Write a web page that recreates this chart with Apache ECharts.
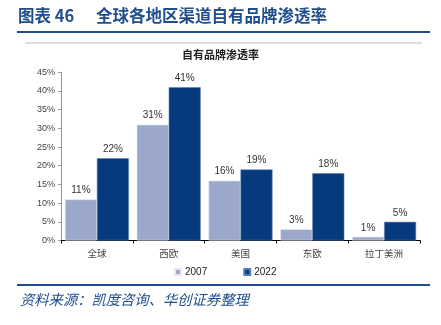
<!DOCTYPE html>
<html>
<head>
<meta charset="utf-8">
<script src="https://cdn.jsdelivr.net/npm/echarts@6/dist/echarts.min.js"></script>
<style>
  html, body { margin: 0; padding: 0; background: #fff; }
  #chart { width: 441px; height: 325px; }
</style>
</head>
<body>
<div id="chart"></div>
<script>
// Private-label penetration by region, 2007 vs 2022 (%)
const regions = ['全球', '西欧', '美国', '东欧', '拉丁美洲'];
const share2007 = [11, 31, 16, 3, 1];
const share2022 = [22, 41, 19, 18, 5];
const yTicks = [0, 5, 10, 15, 20, 25, 30, 35, 40, 45];

const blue = '#1f4e8c';
const chart = echarts.init(document.getElementById('chart'));

chart.setOption({
  animation: false,
  textStyle: { fontFamily: 'Liberation Sans, Arial, sans-serif' },
  graphic: [
    { type: 'text', left: 18, top: 7,
      style: { text: '图表 46', font: 'bold 16.5px "Noto Sans CJK SC"', fill: blue } },
    { type: 'text', left: 96, top: 7,
      style: { text: '全球各地区渠道自有品牌渗透率', font: 'bold 16.5px "Noto Sans CJK SC"', fill: blue } },
    { type: 'rect', shape: { x: 17, y: 31, width: 413, height: 2 }, style: { fill: blue } },
    { type: 'rect', shape: { x: 25, y: 42.5, width: 397, height: 1 }, style: { fill: '#bdbdbd' } },
    { type: 'text', left: 'center', top: 49,
      style: { text: '自有品牌渗透率', font: 'bold 11px "Noto Sans CJK SC"', fill: '#222' } },
    { type: 'rect', shape: { x: 17, y: 284, width: 413, height: 2 }, style: { fill: blue } },
    { type: 'text', left: 20, top: 292,
      style: { text: '资料来源：凯度咨询、华创证券整理', font: 'italic 14.3px "Noto Sans CJK SC"', fill: blue } }
  ],
  legend: {
    data: ['2007', '2022'],
    left: 169, top: 262,
    icon: 'rect', itemWidth: 6, itemHeight: 6, itemGap: 36,
    textStyle: { fontSize: 10, color: '#222', padding: [0, 0, 0, -1] }
  },
  grid: { left: 61, right: 21, top: 72.3, bottom: 84.5 },
  xAxis: {
    type: 'category',
    data: regions,
    axisLine: { lineStyle: { color: '#000', width: 1 } },
    axisTick: { show: true, length: 3, lineStyle: { color: '#000' } },
    axisLabel: { fontSize: 9.5, color: '#444', margin: 8, fontFamily: 'Noto Sans CJK SC' }
  },
  yAxis: {
    type: 'value',
    min: yTicks[0], max: yTicks[yTicks.length - 1], interval: 5,
    splitLine: { show: false },
    axisLine: { show: true, lineStyle: { color: '#999' } },
    axisTick: { show: true, length: 3, lineStyle: { color: '#999' } },
    axisLabel: { fontSize: 9, color: '#444', margin: 6, formatter: v => v + '%' }
  },
  series: [
    {
      name: '2007', type: 'bar', data: share2007,
      barWidth: 32, barGap: '0%',
      itemStyle: { color: '#9ba7cb', borderColor: '#e4e8f2', borderWidth: 0.6 },
      label: { show: true, position: 'top', distance: 4, fontSize: 10, color: '#333', formatter: '{c}%' }
    },
    {
      name: '2022', type: 'bar', data: share2022,
      barWidth: 32, barGap: '0%',
      itemStyle: { color: '#073a7c', borderColor: '#5a7db0', borderWidth: 0.6 },
      label: { show: true, position: 'top', distance: 4, fontSize: 10, color: '#333', formatter: '{c}%' }
    }
  ]
});
</script>
</body>
</html>
